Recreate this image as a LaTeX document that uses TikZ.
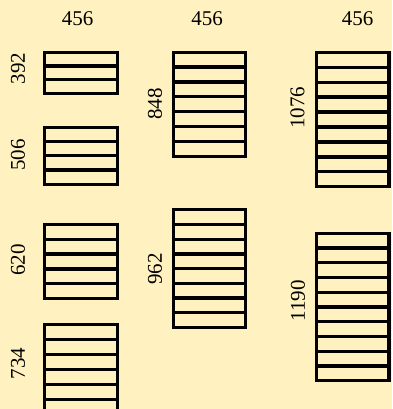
\documentclass[tikz,border=0pt]{standalone}
\usepackage{fontspec}
\setmainfont{Liberation Serif}
\usepackage{xcolor}
\usepackage{tikz}
\usetikzlibrary{positioning}

\definecolor{paper}{RGB}{255,242,192}
\tikzset{
    dim/.style={font=\fontsize{21}{25}\selectfont, inner sep=0pt},
    strip/.style={draw=black, line width=3.2pt},
}
% stack of strips: left x, top y, number of strips, strip height
\newcommand{\tray}[4]{%
    \foreach \k in {1,...,#3} {
        \draw[strip] (#1, {#2+(\k-1)*#4}) rectangle ++(72.5, #4);
    }
}

\begin{document}
\begin{tikzpicture}[x=1pt, y=-1pt]
        \useasboundingbox (0,0) rectangle (392,409);
        \fill[paper] (0,0) rectangle (392,409);
        \clip (0,0) rectangle (392,409);

        % widths on top
        \node[dim] (w1) at (77.5,18.3) {456};
        \node[dim] (w2) at (207,18.3) {456};
        \node[dim] (w3) at (357.5,18.3) {456};

        % first column
        \tray{44.8}{52.2}{3}{13.8}
        \tray{44.8}{127.2}{4}{14.25}
        \tray{44.8}{224.2}{5}{14.9}
        \tray{44.8}{324.2}{6}{15}
        \node[dim, rotate=90] (h1) at (18,68.3) {392};
        \node[dim, rotate=90] (h2) at (18,155) {506};
        \node[dim, rotate=90] (h3) at (18,260) {620};
        \node[dim, rotate=90] (h4) at (18,363.5) {734};

        % second column
        \tray{173.2}{52.2}{7}{14.86}
        \tray{173.2}{209.8}{8}{14.7}
        \node[dim, rotate=90] (h5) at (155,104) {848};
        \node[dim, rotate=90] (h6) at (155,269) {962};

        % third column
        \tray{316.5}{52.2}{9}{14.96}
        \tray{316.5}{233.2}{10}{14.76}
        \node[dim, rotate=90] (h7) at (297.5,107.5) {1076};
        \node[dim, rotate=90] (h8) at (298,301) {1190};
    \end{tikzpicture}
\end{document}
